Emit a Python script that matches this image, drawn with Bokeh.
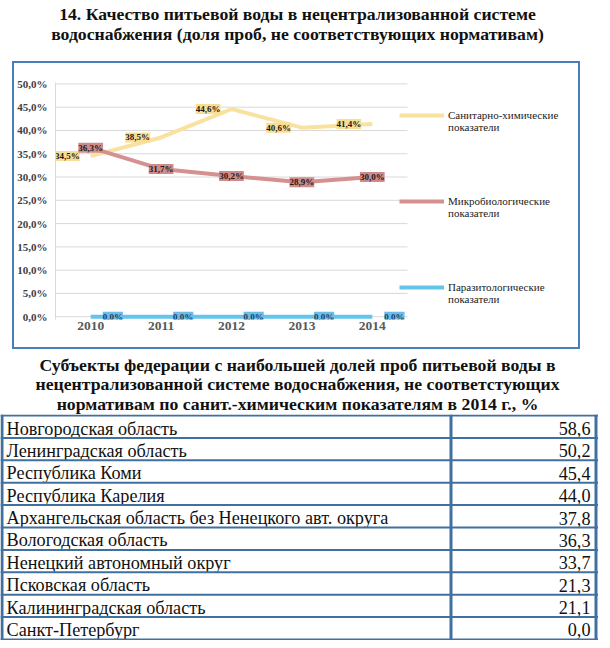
from bokeh.plotting import figure
from bokeh.layouts import column
from bokeh.models import (Range1d, FixedTicker, ColumnDataSource, Legend,
                          LegendItem, Span)
from bokeh.core.properties import value
from bokeh.embed import file_html
from bokeh.resources import INLINE

# ---------------- data ----------------
title_lines = ["14. Качество питьевой воды в нецентрализованной системе",
               "водоснабжения (доля проб, не соответствующих нормативам)"]
years = ["2010", "2011", "2012", "2013", "2014"]
sanchem = [34.5, 38.5, 44.6, 40.6, 41.4]
microbio = [36.3, 31.7, 30.2, 28.9, 30.0]
parasit = [0.0, 0.0, 0.0, 0.0, 0.0]
series_labels = ["\nСанитарно-химические\nпоказатели",
                 "\nМикробиологические\nпоказатели",
                 "\nПаразитологические\nпоказатели"]
y_ticks = [0, 5, 10, 15, 20, 25, 30, 35, 40, 45, 50]
y_tick_labels = ["0,0%", "5,0%", "10,0%", "15,0%", "20,0%", "25,0%",
                 "30,0%", "35,0%", "40,0%", "45,0%", "50,0%"]
subtitle_lines = ["Субъекты федерации с наибольшей долей проб питьевой воды в",
                  "нецентрализованной системе водоснабжения, не соответстующих",
                  "нормативам по санит.-химическим показателям в 2014 г., %"]
regions = ["Новгородская область", "Ленинградская область", "Республика Коми",
           "Республика Карелия", "Архангельская область без Ненецкого авт. округа",
           "Вологодская область", "Ненецкий автономный округ", "Псковская область",
           "Калининградская область", "Санкт-Петербург"]
region_values = [58.6, 50.2, 45.4, 44.0, 37.8, 36.3, 33.7, 21.3, 21.1, 0.0]

# ---------------- styles ----------------
SERIF = "Liberation Serif"
YEL_LINE, YEL_LAB = "#F9E2A0", "#F8DD93"
RED_LINE, RED_LAB = "#D4918F", "#CF8B8A"
BLU_LINE, BLU_LAB = "#64C4EE", "#6BBDE6"
FRAME_BLUE = "#4A7EBB"
TABLE_BLUE = "#41709F"
W = 594


def pct(v):
    return f"{v:.1f}".replace(".", ",") + "%"


def blank(width, height, xr, yr):
    f = figure(frame_width=width, frame_height=height, x_range=xr, y_range=yr,
               x_axis_type=None, y_axis_type=None, output_backend="svg",
               toolbar_location=None, min_border=0)
    f.outline_line_color = None
    f.grid.visible = False
    return f

# ---------------- title ----------------
TH = 61
tf = blank(W, TH, Range1d(0, W), Range1d(TH, 0))
tf.text(x=[W / 2] * len(title_lines), y=[13 + 20 * i for i in range(len(title_lines))],
        text=title_lines, text_font=value(SERIF), text_font_style="bold",
        text_font_size="17.7px", text_align="center", text_baseline="middle",
        text_color="#111111")

# ---------------- chart ----------------
xi = list(range(len(years)))
PX_PER_CAT = 70.4          # layout: width of one category band in pixels
FW = 523                   # frame width (plot area + legend area)
p = figure(frame_width=FW, frame_height=237,
           x_range=Range1d(-0.5, -0.5 + FW / PX_PER_CAT), y_range=Range1d(-0.6, 50.3),
           output_backend="svg", toolbar_location=None,
           min_border_left=40, min_border_right=0, min_border_top=19, min_border_bottom=28)
p.outline_line_color = None
p.grid.visible = False
# horizontal gridlines across the category area only
p.segment(x0=[-0.5] * len(y_ticks), x1=[len(years) - 0.5] * len(y_ticks),
          y0=y_ticks, y1=y_ticks, line_color="#D9D9D9", line_width=1)
p.yaxis.ticker = FixedTicker(ticks=y_ticks)
p.yaxis.major_label_overrides = {t: l for t, l in zip(y_ticks, y_tick_labels)}
p.yaxis.axis_line_color = "#D9D9D9"
p.yaxis.major_tick_line_color = None
p.yaxis.minor_tick_line_color = None
p.yaxis.major_tick_out = 0
p.yaxis.major_label_standoff = 8
p.yaxis.major_label_text_font = SERIF
p.yaxis.major_label_text_font_style = "bold"
p.yaxis.major_label_text_font_size = "11px"
p.yaxis.major_label_text_color = "#404040"
p.xaxis.ticker = FixedTicker(ticks=xi)
p.xaxis.major_label_overrides = {i: y for i, y in zip(xi, years)}
p.xaxis.axis_line_color = None
p.xaxis.major_tick_line_color = None
p.xaxis.minor_tick_line_color = None
p.xaxis.major_tick_out = 0
p.xaxis.major_label_standoff = 2
p.xaxis.major_label_text_font = SERIF
p.xaxis.major_label_text_font_style = "bold"
p.xaxis.major_label_text_font_size = "13.5px"
p.xaxis.major_label_text_color = "#595959"

src = ColumnDataSource(dict(
    x=xi, s=sanchem, m=microbio, z=parasit,
    sl=[pct(v) for v in sanchem], ml=[pct(v) for v in microbio], zl=[pct(v) for v in parasit]))

r1 = p.line("x", "s", source=src, line_color=YEL_LINE, line_width=4)
r2 = p.line("x", "m", source=src, line_color=RED_LINE, line_width=4)
r3 = p.line("x", "z", source=src, line_color=BLU_LINE, line_width=4)

lab_kw = dict(source=src, text_font=value(SERIF), text_font_style="bold",
              text_font_size="9px", text_baseline="middle", padding=0)
p.text(x="x", y="s", text="sl", text_align="right", x_offset=-11,
       background_fill_color=YEL_LAB, text_color="#1A1A1A", **lab_kw)
p.text(x="x", y="m", text="ml", text_align="center",
       background_fill_color=RED_LAB, text_color="#1A1A1A", **lab_kw)
p.text(x="x", y="z", text="zl", text_align="left", x_offset=12,
       background_fill_color=BLU_LAB, text_color="#1F3A60", **lab_kw)

legend = Legend(items=[LegendItem(label=series_labels[0], renderers=[r1]),
                       LegendItem(label=series_labels[1], renderers=[r2]),
                       LegendItem(label=series_labels[2], renderers=[r3])],
                location=(344, 14), glyph_width=45, glyph_height=14, label_standoff=4,
                spacing=50, padding=0, margin=0, border_line_color=None,
                background_fill_alpha=0, label_text_font=SERIF,
                label_text_font_size="11px", label_text_color="#1A1A1A")
p.add_layout(legend, "center")

chart_box = column(p, styles={"border": f"2px solid {FRAME_BLUE}", "margin-left": "12px"})

# ---------------- subtitle ----------------
SH = 65
sf = blank(W, SH, Range1d(0, W), Range1d(SH, 0))
sf.text(x=[W / 2] * len(subtitle_lines), y=[15 + 19.7 * i for i in range(len(subtitle_lines))],
        text=subtitle_lines, text_font=value(SERIF), text_font_style="bold",
        text_font_size="17.7px", text_align="center", text_baseline="middle",
        text_color="#111111")

# ---------------- table ----------------
TW, TBH = 598, 226
n = len(regions)
tb = blank(TW, TBH, Range1d(0, TW), Range1d(n + 0.05, -0.05))
for i in range(n + 1):
    tb.add_layout(Span(location=i, dimension="width", line_color=TABLE_BLUE, line_width=2))
for xpos in (1.5, 450.5, 595.5):
    tb.add_layout(Span(location=xpos, dimension="height", line_color=TABLE_BLUE, line_width=3))
tsrc = ColumnDataSource(dict(y=[i + 0.58 for i in range(n)], name=regions,
                             val=[f"{v:.1f}".replace(".", ",") for v in region_values]))
tb.text(x=6, y="y", text="name", source=tsrc, text_font=value(SERIF), text_font_size="18.2px",
        text_align="left", text_baseline="middle", text_color="#111111")
tb.text(x=590, y="y", text="val", source=tsrc, text_font=value(SERIF), text_font_size="18.2px",
        text_align="right", text_baseline="middle", text_color="#111111")

layout = column(column(tf), chart_box, column(sf), column(tb), spacing=0)
open("out.html", "w").write(file_html(layout, INLINE))
